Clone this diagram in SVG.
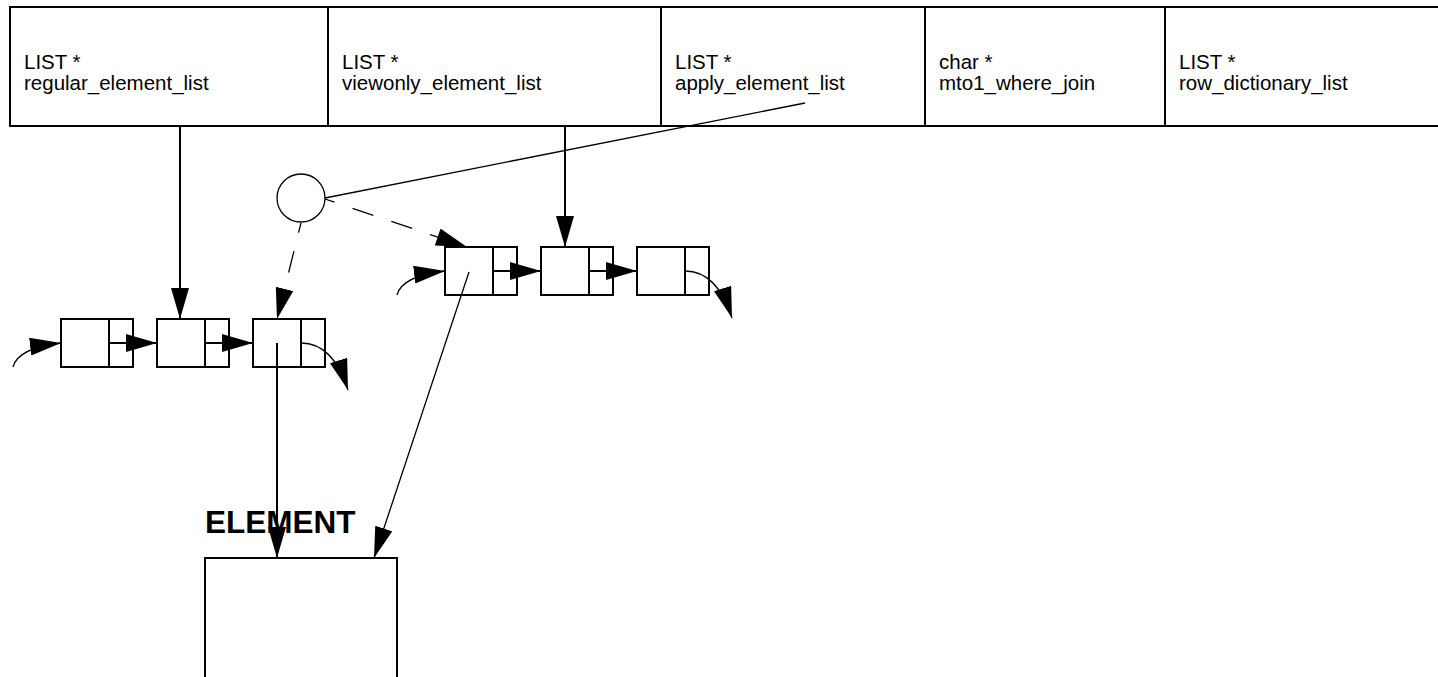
<svg xmlns="http://www.w3.org/2000/svg" width="1438" height="677" viewBox="0 0 1438 677">
<style>
.cell{fill:#fff;stroke:#000;stroke-width:2}
.lbl{font-family:"Liberation Sans",Arial,sans-serif;font-size:20.5px;fill:#000}
.nd{fill:#fff;stroke:#000;stroke-width:2}
.thick{fill:none;stroke:#000;stroke-width:2}
.thin{fill:none;stroke:#000;stroke-width:1.3}
.dash{fill:none;stroke:#000;stroke-width:1.3;stroke-dasharray:22 19;stroke-dashoffset:12}
.title{font-family:"Liberation Sans",Arial,sans-serif;font-size:31.5px;font-weight:bold;fill:#000}
</style>
<defs>
<marker id="ah" viewBox="0 0 31 18" refX="31" refY="9" markerWidth="31" markerHeight="18" markerUnits="userSpaceOnUse" orient="auto">
<path d="M0,0 L31,9 L0,18 z" fill="#000"/>
</marker>
</defs>
<rect width="1438" height="677" fill="#fff"/>
<g id="struct">
<g id="cell-regular"><rect class="cell" x="10" y="7" width="318" height="119"/><text class="lbl" x="24" y="69">LIST *</text><text class="lbl" x="24" y="90">regular_element_list</text></g>
<g id="cell-viewonly"><rect class="cell" x="328" y="7" width="333" height="119"/><text class="lbl" x="342" y="69">LIST *</text><text class="lbl" x="342" y="90">viewonly_element_list</text></g>
<g id="cell-apply"><rect class="cell" x="661" y="7" width="264" height="119"/><text class="lbl" x="675" y="69">LIST *</text><text class="lbl" x="675" y="90">apply_element_list</text></g>
<g id="cell-mto1"><rect class="cell" x="925" y="7" width="240" height="119"/><text class="lbl" x="939" y="69">char *</text><text class="lbl" x="939" y="90">mto1_where_join</text></g>
<g id="cell-rowdict"><rect class="cell" x="1165" y="7" width="290" height="119"/><text class="lbl" x="1179" y="69">LIST *</text><text class="lbl" x="1179" y="90">row_dictionary_list</text></g>
</g>
<g id="circle-node"><circle cx="301" cy="198" r="24" fill="#fff" stroke="#000" stroke-width="1.3"/></g>
<g id="list1-n1"><rect class="nd" x="61" y="319" width="72" height="48"/><line class="thick" x1="109" y1="319" x2="109" y2="367"/></g>
<g id="list1-n2"><rect class="nd" x="157" y="319" width="72" height="48"/><line class="thick" x1="205" y1="319" x2="205" y2="367"/></g>
<g id="list1-n3"><rect class="nd" x="253" y="319" width="72" height="48"/><line class="thick" x1="301" y1="319" x2="301" y2="367"/></g>
<g id="list2-n1"><rect class="nd" x="445" y="247" width="72" height="48"/><line class="thick" x1="493" y1="247" x2="493" y2="295"/></g>
<g id="list2-n2"><rect class="nd" x="541" y="247" width="72" height="48"/><line class="thick" x1="589" y1="247" x2="589" y2="295"/></g>
<g id="list2-n3"><rect class="nd" x="637" y="247" width="72" height="48"/><line class="thick" x1="685" y1="247" x2="685" y2="295"/></g>
<g id="element"><text class="title" x="205" y="533">ELEMENT</text><rect class="nd" x="205" y="558" width="192" height="130"/></g>
<g id="connectors">
<line class="thick" x1="180" y1="126" x2="180" y2="319" marker-end="url(#ah)"/>
<line class="thick" x1="565" y1="126" x2="565" y2="247" marker-end="url(#ah)"/>
<line class="thin" x1="805" y1="103" x2="325" y2="198"/>
<line class="dash" x1="325" y1="199" x2="467" y2="247" marker-end="url(#ah)"/>
<line class="dash" x1="301" y1="223" x2="277" y2="319" marker-end="url(#ah)"/>
<line class="thick" x1="109" y1="343" x2="157" y2="343" marker-end="url(#ah)"/>
<line class="thick" x1="205" y1="343" x2="253" y2="343" marker-end="url(#ah)"/>
<line class="thick" x1="493" y1="271" x2="541" y2="271" marker-end="url(#ah)"/>
<line class="thick" x1="589" y1="271" x2="637" y2="271" marker-end="url(#ah)"/>
<path class="thin" d="M13,367 Q18,348 61,343" marker-end="url(#ah)"/>
<path class="thin" d="M397,295 Q402,276 445,271" marker-end="url(#ah)"/>
<path class="thin" d="M301,343 Q333,343 348,390" marker-end="url(#ah)"/>
<path class="thin" d="M685,271 Q717,271 732,318" marker-end="url(#ah)"/>
<line class="thick" x1="277" y1="343" x2="277" y2="558" marker-end="url(#ah)"/>
<line class="thin" x1="469" y1="272" x2="374" y2="558" marker-end="url(#ah)"/>
</g>
</svg>
